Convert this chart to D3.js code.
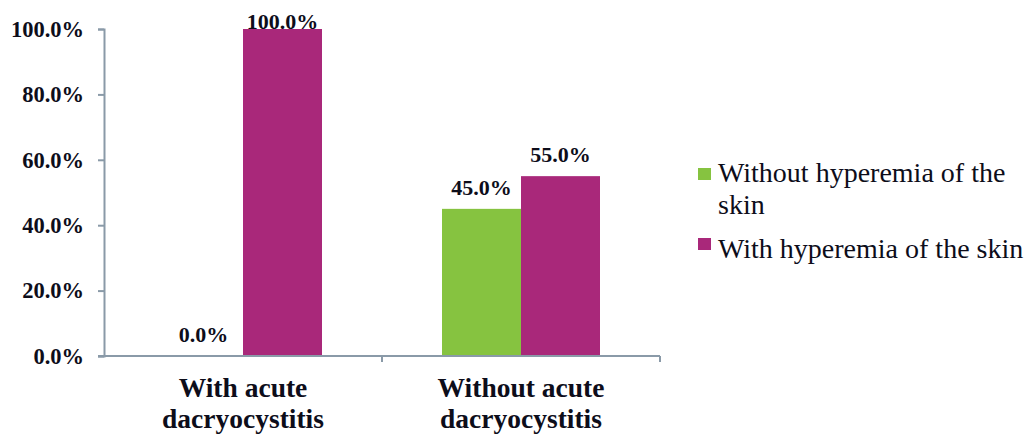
<!DOCTYPE html>
<html>
  <head>
    <style>
      body { margin: 0; background: #fff; }
      svg text { font-family: "Times New Roman", "Liberation Serif", Tinos, serif; fill: #0d0d1a; }
    </style>
  </head>
  <body>
    <svg id="chart" width="1024" height="434"></svg>
    <script src="https://cdn.jsdelivr.net/npm/d3@7"></script>
    <script>
      const categories = [["With acute", "dacryocystitis"], ["Without acute", "dacryocystitis"]];
      const seriesNames = ["Without hyperemia of the skin", "With hyperemia of the skin"];
      const withoutHyperemia = [0.0, 45.0];
      const withHyperemia = [100.0, 55.0];
      const yTicks = [0, 20, 40, 60, 80, 100];
      const colors = ["#86c340", "#a9287a"];

      const svg = d3.select("#chart");
      const plotLeft = 104, plotRight = 660, plotTop = 29, plotBottom = 356;
      const catKeys = categories.map((c) => c.join(" "));

      const x = d3.scaleBand().domain(catKeys).range([plotLeft, plotRight]);
      const xs = d3.scaleBand().domain([0, 1]).range([60, x.bandwidth() - 60]);
      const y = d3.scaleLinear().domain([0, 100]).range([plotBottom, plotTop]);
      const axisColor = "#8a9aa8";

      // bars
      const series = [withoutHyperemia, withHyperemia];
      series.forEach((vals, si) => {
        svg.append("g")
          .selectAll("rect")
          .data(vals)
          .join("rect")
          .attr("x", (d, i) => x(catKeys[i]) + xs(si))
          .attr("width", xs.bandwidth())
          .attr("y", (d) => y(d))
          .attr("height", (d) => y(0) - y(d))
          .attr("fill", colors[si]);

        svg.append("g")
          .selectAll("text")
          .data(vals)
          .join("text")
          .attr("x", (d, i) => x(catKeys[i]) + xs(si) + xs.bandwidth() / 2)
          .attr("y", (d) => Math.max(y(d) - 14, plotTop))
          .attr("text-anchor", "middle")
          .attr("font-size", 22)
          .attr("font-weight", "bold")
          .text((d) => d.toFixed(1) + "%");
      });

      // y axis
      const yAxis = svg.append("g")
        .attr("transform", `translate(${plotLeft},0)`)
        .call(d3.axisLeft(y).tickValues(yTicks).tickSize(6).tickPadding(14)
          .tickFormat((d) => d.toFixed(1) + "%"));
      yAxis.attr("font-family", null);
      yAxis.select(".domain").attr("stroke", axisColor).attr("stroke-width", 2);
      yAxis.selectAll(".tick line").attr("stroke", axisColor).attr("stroke-width", 2);
      yAxis.selectAll(".tick text")
        .attr("font-size", 22.5).attr("font-weight", "bold");

      // x axis
      const xAxis = svg.append("g")
        .attr("transform", `translate(0,${plotBottom})`);
      xAxis.append("line")
        .attr("x1", plotLeft - 6).attr("x2", plotRight)
        .attr("stroke", axisColor).attr("stroke-width", 2);
      xAxis.selectAll("line.tk")
        .data([x(catKeys[0]) + x.bandwidth(), plotRight])
        .join("line")
        .attr("class", "tk")
        .attr("x1", (d) => d).attr("x2", (d) => d)
        .attr("y1", 0).attr("y2", 6)
        .attr("stroke", axisColor).attr("stroke-width", 2);

      categories.forEach((lines, i) => {
        svg.append("text")
          .attr("x", x(catKeys[i]) + x.bandwidth() / 2)
          .attr("y", 397)
          .attr("text-anchor", "middle")
          .attr("font-size", 27.5)
          .attr("font-weight", "bold")
          .selectAll("tspan")
          .data(lines)
          .join("tspan")
          .attr("x", x(catKeys[i]) + x.bandwidth() / 2)
          .attr("dy", (d, j) => (j === 0 ? 0 : 31))
          .text((d) => d);
      });

      // legend
      const legend = [
        { lines: ["Without hyperemia of the", "skin"], y: 182, sq: 168 },
        { lines: ["With hyperemia of the skin"], y: 258, sq: 238 }
      ];
      legend.forEach((item, i) => {
        svg.append("rect")
          .attr("x", 698).attr("y", item.sq)
          .attr("width", 13).attr("height", 12)
          .attr("fill", colors[i]);
        svg.append("text")
          .attr("y", item.y)
          .attr("font-size", 28)
          .selectAll("tspan")
          .data(item.lines)
          .join("tspan")
          .attr("x", 718)
          .attr("dy", (d, j) => (j === 0 ? 0 : 32))
          .text((d) => d);
      });
    </script>
  </body>
</html>
